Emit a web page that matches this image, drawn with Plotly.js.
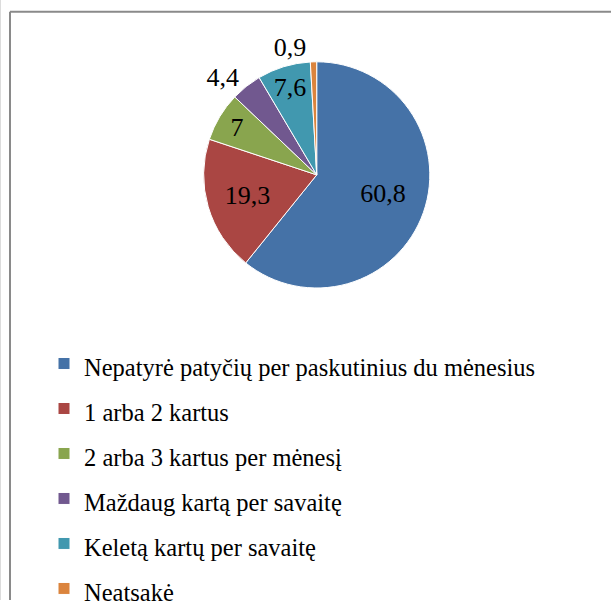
<!DOCTYPE html>
<html>
<head>
<meta charset="utf-8">
<script src="https://cdn.plot.ly/plotly-3.0.1.min.js"></script>
<style>
  html, body { margin: 0; padding: 0; background: #fff; }
  #plot { width: 611px; height: 616px; }
  #plot .legendtext, #plot .legendtext tspan { font-family: 'Liberation Serif', 'Times New Roman', serif !important; }
</style>
</head>
<body>
<div id="plot"></div>
<script>
/* Pie of bullying frequency answers */

var categories = [
  "Nepatyrė patyčių per paskutinius du mėnesius",
  "1 arba 2 kartus",
  "2 arba 3 kartus per mėnesį",
  "Maždaug kartą per savaitę",
  "Keletą kartų per savaitę",
  "Neatsakė"
];

var shares = [60.8, 19.3, 7, 4.4, 7.6, 0.9];

var sliceColors = ['#4572A7', '#AA4643', '#89A54E', '#71588F', '#4198AF', '#DB843D'];

var labelPlaces = ['inside', 'inside', 'inside', 'outside', 'inside', 'outside'];

var serif = 'Liberation Serif, Times New Roman, serif';

// legend font is larger than the visible text so rows get the wider spacing
var legendLabels = categories.map(function (c) {
  return '<span style="font-size:24.5px">' + c + '</span>';
});

// nudge the big slice label down/right like the original
var nb = '\u00a0';
var labelTemplates = [
  '<br>' + nb + nb + nb + nb + '%{value}',
  '%{value}', '%{value}', '%{value}', '%{value}', '%{value}'
];

var trace1 =
{
  type: 'pie',
  labels: legendLabels,
  values: shares,
  sort: false,
  direction: 'clockwise',
  rotation: 0,
  textinfo: 'value',
  texttemplate: labelTemplates,
  textposition: labelPlaces,
  insidetextorientation: 'horizontal',
  textfont: { family: serif, size: 26, color: '#000' },
  hoverinfo: 'label+value',
  marker:
  {
    colors: sliceColors,
    line: { color: '#fff', width: 1 }
  },
  domain: { x: [0.3285, 0.7082], y: [0.520, 0.897] }
};

var layout = {
  width: 611,
  height: 616,
  margin: { l: 0, r: 0, t: 0, b: 0 },
  paper_bgcolor: '#fff',
  separators: ', ',
  font: { family: serif, color: '#000' },
  showlegend: true,
  uniformtext: { minsize: 26, mode: 'show' },
  legend: {
    x: 44 / 611,
    xanchor: 'left',
    y: 1 - 345 / 616,
    yanchor: 'top',
    font: { family: serif, size: 32.3, color: '#000' },
    bgcolor: 'rgba(0,0,0,0)',
    borderwidth: 0
  },
  shapes: [
    { type: 'line', xref: 'paper', yref: 'paper', x0: 10 / 611, x1: 10 / 611, y0: 0, y1: 1 - 12 / 616, line: { color: '#8a8a8a', width: 2 } },
    { type: 'line', xref: 'paper', yref: 'paper', x0: 10 / 611, x1: 1, y0: 1 - 12 / 616, y1: 1 - 12 / 616, line: { color: '#8a8a8a', width: 2 } },
    { type: 'line', xref: 'paper', yref: 'paper', x0: 0.5 / 611, x1: 0.5 / 611, y0: 0, y1: 1, line: { color: '#dcdcdc', width: 1 } }
  ]
};

Plotly.newPlot('plot', [trace1], layout, { displayModeBar: false, staticPlot: true });
</script>
</body>
</html>
